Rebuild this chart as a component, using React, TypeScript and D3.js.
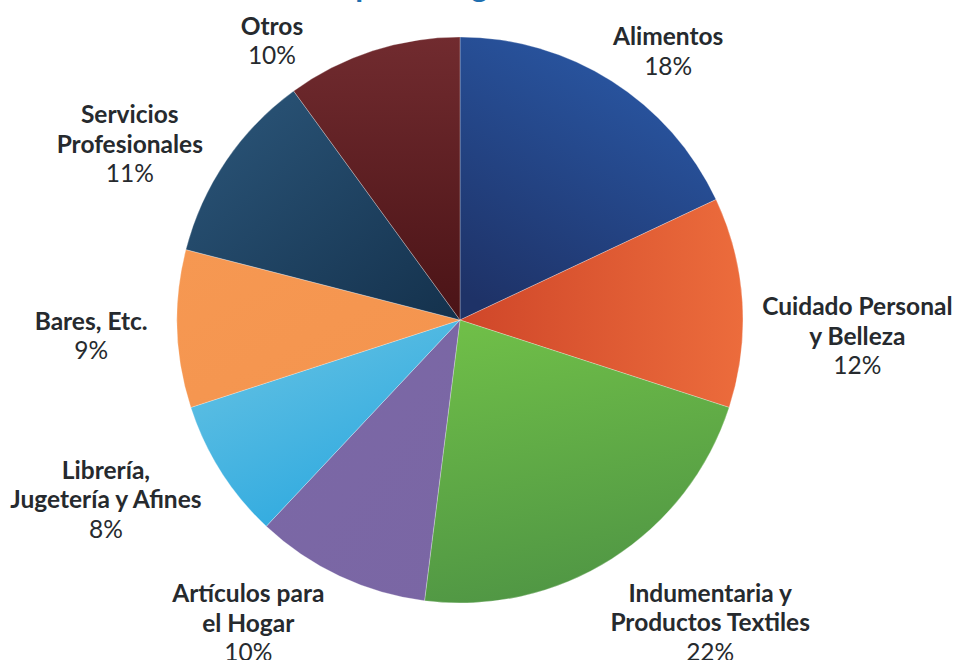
import React from 'react';
import * as d3 from 'd3';

const categories = [
  'Alimentos',
  'Cuidado Personal y Belleza',
  'Indumentaria y Productos Textiles',
  'Artículos para el Hogar',
  'Librería, Jugetería y Afines',
  'Bares, Etc.',
  'Servicios Profesionales',
  'Otros',
];
const labelLines = [
  ['Alimentos'],
  ['Cuidado Personal', 'y Belleza'],
  ['Indumentaria y', 'Productos Textiles'],
  ['Artículos para', 'el Hogar'],
  ['Librería,', 'Jugetería y Afines'],
  ['Bares, Etc.'],
  ['Servicios', 'Profesionales'],
  ['Otros'],
];
const values = [18, 12, 22, 10, 8, 9, 11, 10];
const titleText = 'Distribución por categoría';

// styles / layout (kept separate from data)
const sliceColors: [string, string][] = [
  ['#2a59a7', '#1e3267'],
  ['#ec6c3c', '#cf4629'],
  ['#6fbe48', '#4f9544'],
  ['#7b68a6', '#7a66a4'],
  ['#65c2e3', '#27a6df'],
  ['#f69852', '#f4944e'],
  ['#2c577b', '#14314c'],
  ['#712b2f', '#4a1316'],
];
const gradDirs: [number, number, number, number][] = [
  [0.7, 0, 0.2, 1],
  [1, 0.5, 0, 0.5],
  [0.3, 0, 0.5, 1],
  [0, 0, 1, 1],
  [0.2, 0, 0.8, 1],
  [0, 0, 1, 1],
  [0, 0, 1, 1],
  [0.5, 0, 0.5, 1],
];
const labelNudge: [number, number][] = [
  [26, 17],
  [58, 36],
  [68, 14],
  [-67, -6],
  [-67, -4],
  [-29, 4],
  [-49, 14],
  [-83, 43],
];

const W = 955;
const H = 660;
const cx = 460;
const cy = 320;
const R = 283;
const labelR = 340;
const lineH = 29.5;
const fontSize = 24.5;

export default function App() {
  const pie = d3
    .pie<number>()
    .sort(null)
    .startAngle(0)
    .endAngle(2 * Math.PI)
    .value((d) => d);
  const arcs = pie(values);
  const arc = d3.arc<d3.PieArcDatum<number>>().innerRadius(0).outerRadius(R);
  const total = d3.sum(values);

  return (
    <svg
      width={W}
      height={H}
      style={{ position: 'absolute', left: 0, top: 0, background: '#fff' }}
      fontFamily="Lato, 'Open Sans', sans-serif"
    >
      <defs>
        {arcs.map((a, i) => (
          <linearGradient
            key={i}
            id={`g${i}`}
            x1={gradDirs[i][0]}
            y1={gradDirs[i][1]}
            x2={gradDirs[i][2]}
            y2={gradDirs[i][3]}
          >
            <stop offset="0%" stopColor={sliceColors[i][0]} />
            <stop offset="100%" stopColor={sliceColors[i][1]} />
          </linearGradient>
        ))}
      </defs>
      <text x={173} y={-3} fontSize={32} fontWeight="bold" fill="#1f6fb0">
        {titleText}
      </text>
      <g transform={`translate(${cx},${cy})`}>
        {arcs.map((a, i) => (
          <path
            key={categories[i]}
            d={arc(a) || ''}
            fill={`url(#g${i})`}
            stroke="#ffffff"
            strokeOpacity={0.45}
            strokeWidth={0.6}
          />
        ))}
        {arcs.map((a, i) => {
          const mid = (a.startAngle + a.endAngle) / 2;
          const bx = labelR * Math.sin(mid) + labelNudge[i][0];
          const by = -labelR * Math.cos(mid) + labelNudge[i][1];
          const lines = labelLines[i];
          const n = lines.length + 1;
          const y0 = by - ((n - 1) / 2) * lineH;
          const pct = d3.format('.0%')(values[i] / total);
          return (
            <text
              key={'l' + i}
              x={bx}
              textAnchor="middle"
              fontSize={fontSize}
              fill="#262a2e"
              dominantBaseline="central"
            >
              {lines.map((ln, j) => (
                <tspan key={j} x={bx} y={y0 + j * lineH} fontWeight="bold">
                  {ln}
                </tspan>
              ))}
              <tspan x={bx} y={y0 + lines.length * lineH} fontWeight="normal">
                {pct}
              </tspan>
            </text>
          );
        })}
      </g>
    </svg>
  );
}
